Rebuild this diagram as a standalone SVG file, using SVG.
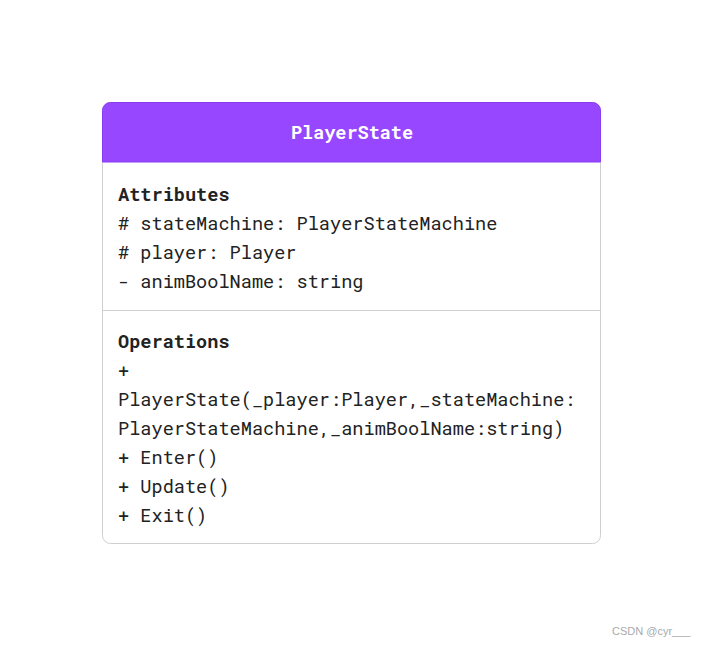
<svg xmlns="http://www.w3.org/2000/svg" width="704" height="647" viewBox="0 0 704 647">
<style>
.t{font-family:"Roboto Mono","DejaVu Sans Mono","Liberation Mono",monospace;font-size:18.6px;fill:#222}
.b{font-weight:bold}
.h{font-family:"Roboto Mono","DejaVu Sans Mono","Liberation Mono",monospace;font-size:18.5px;font-weight:bold;fill:#fff}
</style>
<rect width="704" height="647" fill="#fff"/>
<g id="PlayerState">
<rect x="102.5" y="102.5" width="498" height="441" rx="8" fill="#fff" stroke="#cfcfcf"/>
<path d="M102.5 162 V110.5 a8 8 0 0 1 8 -8 H592.5 a8 8 0 0 1 8 8 V162 Z" fill="#9747ff" stroke="#8a3cf0"/>
<text class="h" x="352" y="139" text-anchor="middle">PlayerState</text>
<line x1="102.5" y1="310.5" x2="600.5" y2="310.5" stroke="#cfcfcf"/>
<text class="t b" x="118" y="201">Attributes</text>
<text class="t" x="118" y="230"># stateMachine: PlayerStateMachine</text>
<text class="t" x="118" y="259"># player: Player</text>
<text class="t" x="118" y="288">- animBoolName: string</text>
<text class="t b" x="118" y="348">Operations</text>
<text class="t" x="118" y="377">+</text>
<text class="t" x="118" y="406">PlayerState(_player:Player,_stateMachine:</text>
<text class="t" x="118" y="435">PlayerStateMachine,_animBoolName:string)</text>
<text class="t" x="118" y="464">+ Enter()</text>
<text class="t" x="118" y="493">+ Update()</text>
<text class="t" x="118" y="522">+ Exit()</text>
</g>
<g id="connectors"/>
<text x="612" y="635" font-family="Liberation Sans, Arial, sans-serif" font-size="11" fill="#aaa">CSDN @cyr___</text>
</svg>
